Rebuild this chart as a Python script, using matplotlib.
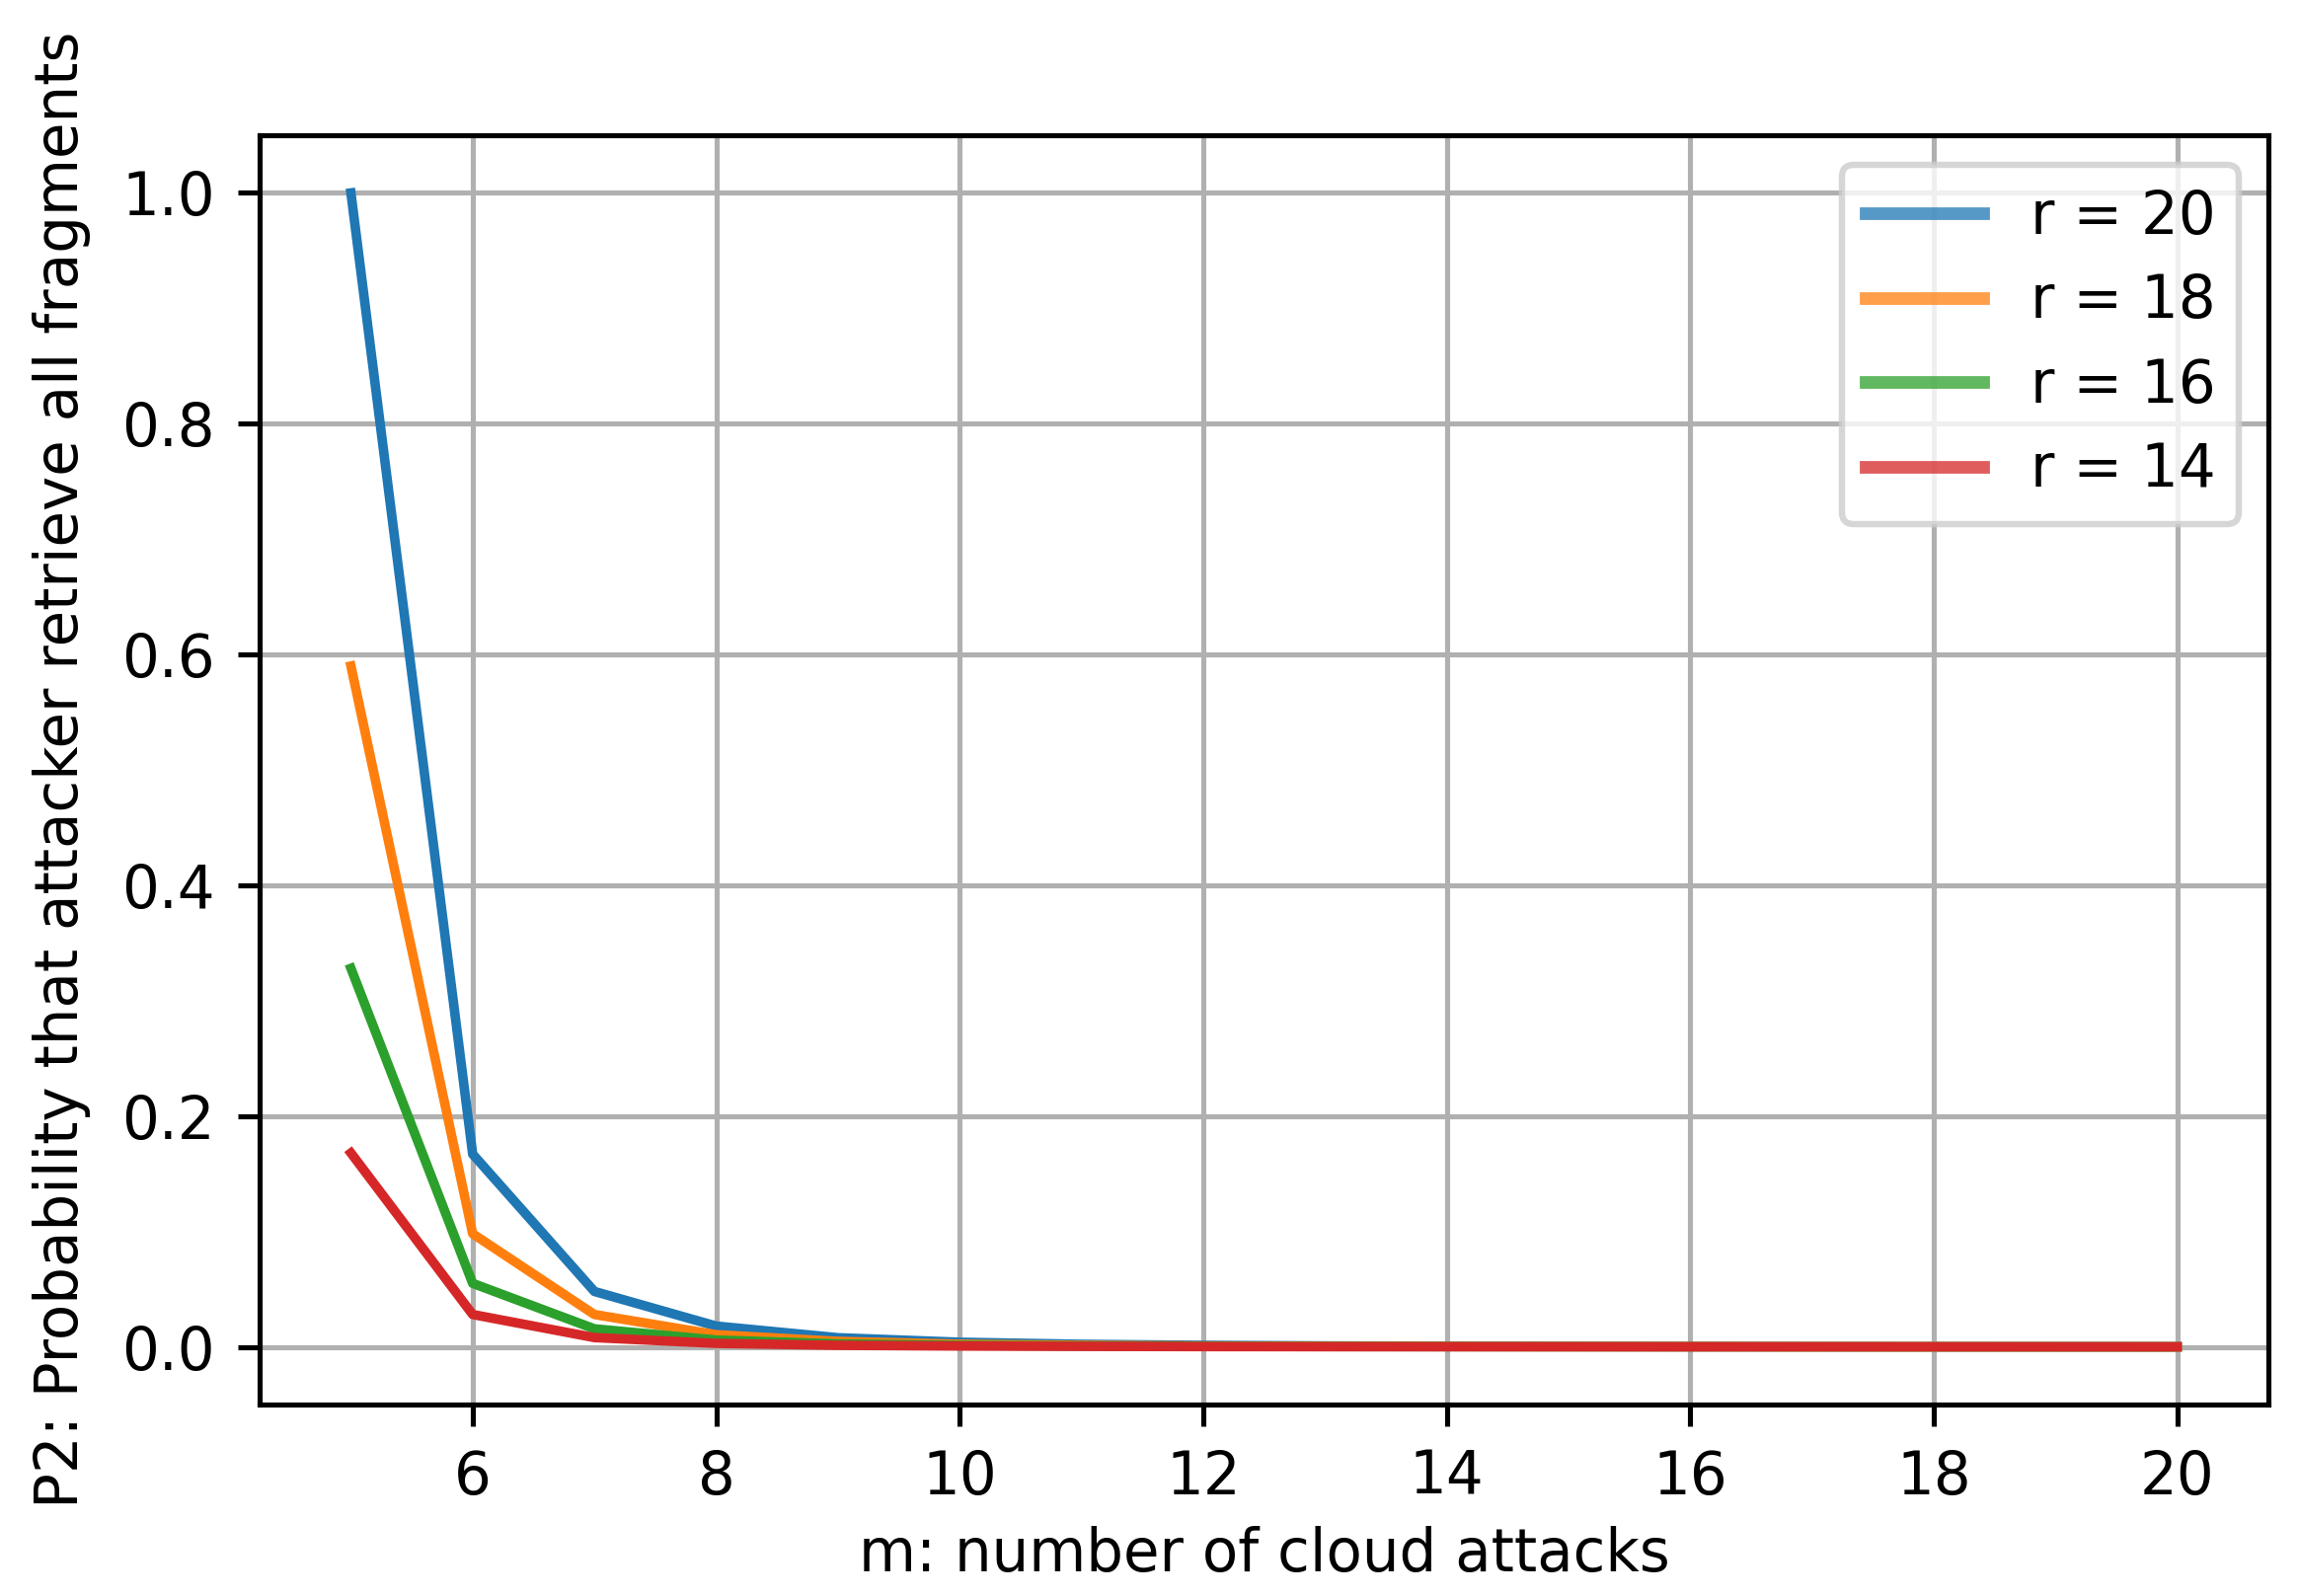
import matplotlib
matplotlib.use("Agg")
import matplotlib.pyplot as plt

m = [5, 6, 7, 8, 9, 10, 11, 12, 13, 14, 15, 16, 17, 18, 19, 20]
labels = ["r = 20", "r = 18", "r = 16", "r = 14"]
p_r20 = [1.0, 0.167, 0.048, 0.018, 0.0079, 0.0040, 0.0022, 0.0013, 0.0008,
         0.0005, 0.0003, 0.0002, 0.00016, 0.00012, 0.00009, 0.00006]
p_r18 = [0.590, 0.098, 0.028, 0.0105, 0.0047, 0.0023, 0.0013, 0.0007, 0.0005,
         0.0003, 0.0002, 0.00014, 0.0001, 0.00007, 0.00005, 0.00004]
p_r16 = [0.328, 0.055, 0.0156, 0.0059, 0.0026, 0.0013, 0.0007, 0.0004, 0.00025,
         0.00016, 0.00011, 0.00008, 0.00005, 0.00004, 0.00003, 0.00002]
p_r14 = [0.168, 0.028, 0.0080, 0.0030, 0.0013, 0.0007, 0.0004, 0.0002, 0.00013,
         0.00008, 0.00006, 0.00004, 0.00003, 0.00002, 0.00001, 0.00001]
series = [p_r20, p_r18, p_r16, p_r14]
colors = ["#1f77b4", "#ff7f0e", "#2ca02c", "#d62728"]
xticks = [6, 8, 10, 12, 14, 16, 18, 20]
yticks = [0.0, 0.2, 0.4, 0.6, 0.8, 1.0]

plt.rcParams['font.family'] = ['DejaVu Sans']
plt.rcParams['font.size'] = 9.3

fig = plt.figure(figsize=(2328 / 461, 1617 / 461), dpi=461)
ax = fig.add_axes([263 / 2328, 1 - 1423 / 1617, (2298 - 263) / 2328, (1423 - 137) / 1617])

for ys, lab, c in zip(series, labels, colors):
    ax.plot(m, ys, color=c, linewidth=1.5, label=lab)

ax.set_xticks(xticks)
ax.set_yticks(yticks)
ax.set_xlim(4.25, 20.75)
ax.set_ylim(-0.05, 1.05)
ax.grid(True, color="#b0b0b0", linewidth=0.8)
ax.set_axisbelow(True)
ax.set_xlabel("m: number of cloud attacks", labelpad=3)
ax.set_ylabel("P2: Probability that attacker retrieve all fragments", labelpad=5)

leg = ax.legend(loc="upper right", labelspacing=0.45, borderpad=0.4)
for ln in leg.get_lines():
    ln.set_linewidth(2.0)
    ln.set_alpha(0.75)

fig.savefig("out.png", dpi=461)
